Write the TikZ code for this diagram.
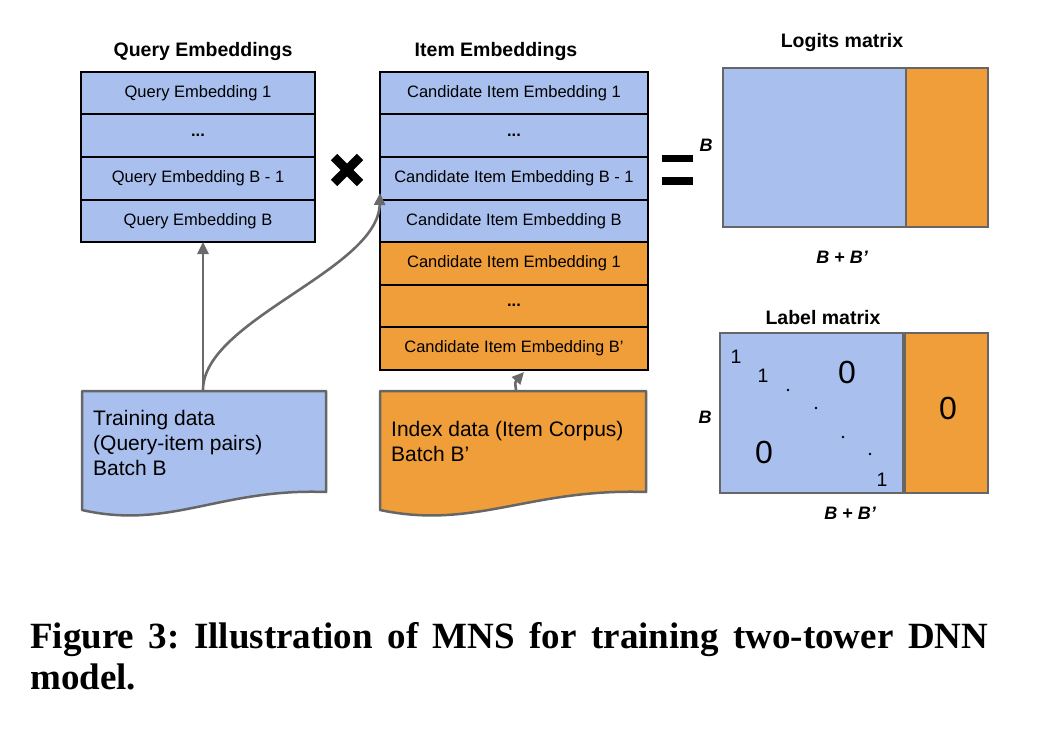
\documentclass[tikz,border=0pt]{standalone}
\usepackage{fontspec}
\setmainfont{Liberation Sans}
\newfontfamily\capfont{Liberation Serif}
\usetikzlibrary{arrows.meta}
\definecolor{qblue}{HTML}{A9C0EE}
\definecolor{iorange}{HTML}{F09E3A}
\definecolor{bgray}{HTML}{666666}
\definecolor{agray}{HTML}{6A6A6A}
\frenchspacing
\begin{document}
\begin{tikzpicture}[x=1pt,y=-1pt,
 embrow/.style={draw=black,line width=2pt,inner sep=0pt,outer sep=0pt,minimum height=42.5pt,font=\fontsize{16.5}{19}\selectfont},
 qrow/.style={embrow,fill=qblue,minimum width=234pt},
 ibrow/.style={embrow,fill=qblue,minimum width=268pt},
 iorow/.style={embrow,fill=iorange,minimum width=268pt},
 title/.style={font=\bfseries\fontsize{19.5}{22}\selectfont,inner sep=0pt},
 dimlab/.style={font=\bfseries\itshape\fontsize{18}{20}\selectfont,inner sep=0pt},
 mat/.style={draw=bgray,line width=2.5pt},
 docbox/.style={draw=bgray,line width=2.5pt,line join=round},
 doctext/.style={anchor=north west,inner sep=0pt,align=left,font=\fontsize{21}{25}\selectfont},
 conn/.style={draw=agray,line width=2.6pt,-{Triangle[length=12pt,width=11pt]}},
 small1/.style={inner sep=0pt,font=\fontsize{19.5}{22}\selectfont},
 big0/.style={inner sep=0pt,font=\fontsize{32}{36}\selectfont},
 mdot/.style={fill=black}
]
\useasboundingbox (0,0) rectangle (1040,730);

% titles
\node[title] (qtitle) at (203,52) {Query Embeddings};
\node[title] (ititle) at (496,52) {Item Embeddings};
\node[title] (ltitle) at (842,43) {Logits matrix};
\node[title] (mtitle) at (823,318) {Label matrix};

% query embeddings
\node[qrow] (q1) at (198,93.25) {Query Embedding 1};
\node[qrow] (q2) at (198,135.75) {\textbf{...}};
\node[qrow] (q3) at (198,178.25) {Query Embedding B - 1};
\node[qrow] (q4) at (198,220.75) {Query Embedding B};

% item embeddings
\node[ibrow] (i1) at (514,93.25) {Candidate Item Embedding 1};
\node[ibrow] (i2) at (514,135.75) {\textbf{...}};
\node[ibrow] (i3) at (514,178.25) {Candidate Item Embedding B - 1};
\node[ibrow] (i4) at (514,220.75) {Candidate Item Embedding B};
\node[iorow] (i5) at (514,263.25) {Candidate Item Embedding 1};
\node[iorow] (i6) at (514,305.75) {\textbf{...}};
\node[iorow] (i7) at (514,348.25) {Candidate Item Embedding B’};

% multiply and equals
\draw[line width=9pt] (334,157) -- (360,183) (334,183) -- (360,157);
\fill (662,155) rectangle (693,162.5);
\fill (662,177) rectangle (693,184.5);

% logits matrix
\fill[qblue] (723,68) rectangle (906,227);
\fill[iorange] (906,68) rectangle (988,227);
\draw[mat] (723,68) rectangle (988,227);
\draw[mat] (906,68) -- (906,227);
\node[dimlab] (lB) at (706,145) {B};
\node[dimlab] (lBB) at (842,257) {B + B’};

% label matrix
\fill[qblue] (720,333) rectangle (903,493);
\fill[iorange] (905,333) rectangle (988,493);
\draw[mat] (720,333) rectangle (903,493);
\draw[mat] (905,333) rectangle (988,493);
\node[dimlab] (mB) at (705,417) {B};
\node[dimlab] (mBB) at (850,513) {B + B’};
\node[small1] (one1) at (736,357) {1};
\node[small1] (one2) at (763,376) {1};
\node[small1] (one3) at (882,480) {1};
\node[big0] (zero1) at (847,372) {0};
\node[big0] (zero2) at (764,452) {0};
\node[big0] (zero3) at (948,408) {0};
\fill[mdot] (788,390) circle (1.3pt);
\fill[mdot] (816,408) circle (1.3pt);
\fill[mdot] (843,437) circle (1.3pt);
\fill[mdot] (870,454) circle (1.3pt);

% documents
\draw[docbox,fill=qblue] (82,391) -- (326,391) -- (326,492)
  .. controls (220,488) and (170,530) .. (82,510) -- cycle;
\node[doctext] (train) at (93,410) {Training data\\(Query-item pairs)\\Batch B};
\draw[docbox,fill=iorange] (380,391) -- (646,391) -- (646,492)
  .. controls (530,488) and (475,530) .. (380,510) -- cycle;
\node[doctext] (index) at (391,421) {Index data (Item Corpus)\\Batch B’};

\coordinate (traintop) at (203,390);
\coordinate (itemin) at (380,193);
\coordinate (idxtop) at (516,390);
\coordinate (itembot) at (524,372);

% connectors
\draw[conn] (traintop) -- (traintop |- q4.south);
\draw[conn] (traintop) .. controls (203,320) and (378,270) .. (itemin);
\draw[conn] (idxtop) .. controls (515,382) .. (itembot);

% caption
\node[anchor=north west,inner sep=0pt,text width=958pt,align=justify,
  font=\capfont\bfseries\fontsize{37}{41}\selectfont] (cap) at (30,622)
  {Figure 3: Illustration of MNS for training two-tower DNN \mbox{model.}};
\end{tikzpicture}
\end{document}
